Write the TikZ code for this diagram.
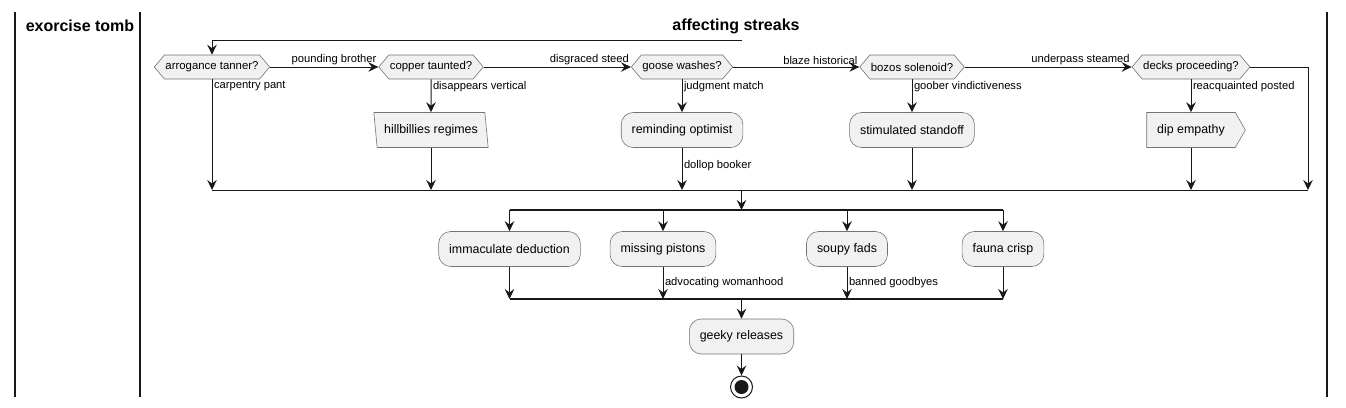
\documentclass[tikz,border=0pt]{standalone}
\usepackage{fontspec}
\setmainfont{Liberation Sans}
\usetikzlibrary{shapes.symbols,shapes.geometric,arrows.meta}

\definecolor{actfill}{HTML}{F1F1F1}
\definecolor{actline}{HTML}{181818}

\tikzset{
  boxbase/.style={draw=black!55, line width=0.6pt, fill=actfill, inner ysep=0pt,
    minimum height=35pt, font=\fontsize{12.4}{14}\selectfont},
  activity/.style={boxbase, rounded corners=12pt, inner xsep=10.5pt},
  iobox/.style={boxbase, trapezium, trapezium stretches=true,
    trapezium left angle=106, trapezium right angle=74, inner xsep=7pt},
  sendbox/.style={boxbase, signal, signal to=east, signal pointer angle=120,
    inner xsep=10.5pt},
  decision/.style={boxbase, signal, signal to=west and east,
    signal pointer angle=100, minimum height=24pt, inner xsep=1pt,
    font=\fontsize{11.4}{13}\selectfont},
  flow/.style={draw=actline, line width=1pt,
    -{Stealth[length=10pt,width=9.5pt,inset=3.5pt]}},
  plainline/.style={draw=actline, line width=1pt},
  syncbar/.style={draw=actline, line width=2.2pt},
  laneline/.style={draw=actline, line width=1.5pt},
  lbl/.style={font=\fontsize{11.2}{13}\selectfont, inner sep=1.5pt},
  lanetitle/.style={font=\bfseries\fontsize{16}{19}\selectfont}
}

\begin{document}
\begin{tikzpicture}[x=1pt,y=-1pt]
\useasboundingbox (0,0) rectangle (1346,407);

% swimlanes
\draw[laneline] (15,12) -- (15,397);
\draw[laneline] (140,12) -- (140,397);
\draw[laneline] (1327,12) -- (1327,397);
\node[lanetitle] (laneA) at (80,26) {exorcise tomb};
\node[lanetitle] (laneB) at (736,26) {affecting streaks};

% helper points
\coordinate (top) at (741.5,40);
\coordinate (mrg) at (741.5,190);
\coordinate (mrgR) at (1308,190);
\coordinate (fk) at (741.5,210);
\coordinate (jn) at (741.5,299);

% decisions
\node[decision] (arrogance) at (212,67) {arrogance tanner?};
\node[decision] (copper) at (431,67) {copper taunted?};
\node[decision] (goose) at (682,67) {goose washes?};
\node[decision] (bozos) at (912,67) {bozos solenoid?};
\node[decision] (decks) at (1191,67) {decks proceeding?};

% branch actions
\node[iobox] (hillbillies) at (431,130) {hillbillies regimes};
\node[activity] (reminding) at (682,130) {reminding optimist};
\node[activity] (stimulated) at (912,130) {stimulated standoff};
\node[sendbox] (dip) at (1191,130) {dip empathy};

% fork actions
\node[activity] (immaculate) at (509.5,249) {immaculate deduction};
\node[activity] (missing) at (663,249) {missing pistons};
\node[activity] (soupy) at (847,249) {soupy fads};
\node[activity] (fauna) at (1003,249) {fauna crisp};

\node[activity] (geeky) at (741.5,336.5) {geeky releases};
\node[circle, draw=actline, line width=1pt, fill=white, minimum size=22pt,
  inner sep=0pt, path picture={\fill[actline] (path picture bounding box.center)
  circle (7pt);}] (stop) at (741.5,387) {};

% decision chain
\draw[flow] (top) -| (arrogance.north);
\draw[flow] (arrogance.east) -- node[lbl, pos=1, anchor=south east] {pounding brother} (copper.west);
\draw[flow] (copper.east) -- node[lbl, pos=1, anchor=south east] {disgraced steed} (goose.west);
\draw[flow] (goose.east) -- node[lbl, pos=1, anchor=south east] {blaze historical} (bozos.west);
\draw[flow] (bozos.east) -- node[lbl, pos=1, anchor=south east] {underpass steamed} (decks.west);
\draw[flow] (decks.east) -| (mrgR);

\draw[flow] (arrogance.south) -- node[lbl, pos=0, anchor=north west] {carpentry pant} (arrogance.south |- mrg);
\draw[flow] (copper.south) -- node[lbl, pos=0, anchor=north west] {disappears vertical} (hillbillies.north);
\draw[flow] (goose.south) -- node[lbl, pos=0, anchor=north west] {judgment match} (reminding.north);
\draw[flow] (bozos.south) -- node[lbl, pos=0, anchor=north west] {goober vindictiveness} (stimulated.north);
\draw[flow] (decks.south) -- node[lbl, pos=0, anchor=north west] {reacquainted posted} (dip.north);

\draw[flow] (hillbillies.south) -- (hillbillies.south |- mrg);
\draw[flow] (reminding.south) -- node[lbl, pos=0.42, anchor=west] {dollop booker} (reminding.south |- mrg);
\draw[flow] (stimulated.south) -- (stimulated.south |- mrg);
\draw[flow] (dip.south) -- (dip.south |- mrg);
\draw[plainline] (arrogance.south |- mrg) -- (mrgR);

% fork and join
\draw[flow] (mrg) -- (fk);
\draw[syncbar] (immaculate.north |- fk) -- (fauna.north |- fk);
\foreach \t in {immaculate,missing,soupy,fauna}
  \draw[flow] (\t.north |- fk) -- (\t.north);
\draw[flow] (immaculate.south) -- (immaculate.south |- jn);
\draw[flow] (missing.south) -- node[lbl, midway, anchor=west] {advocating womanhood} (missing.south |- jn);
\draw[flow] (soupy.south) -- node[lbl, midway, anchor=west] {banned goodbyes} (soupy.south |- jn);
\draw[flow] (fauna.south) -- (fauna.south |- jn);
\draw[syncbar] (immaculate.south |- jn) -- (fauna.south |- jn);

\draw[flow] (jn) -- (geeky.north);
\draw[flow] (geeky.south) -- (stop.north);
\end{tikzpicture}
\end{document}
